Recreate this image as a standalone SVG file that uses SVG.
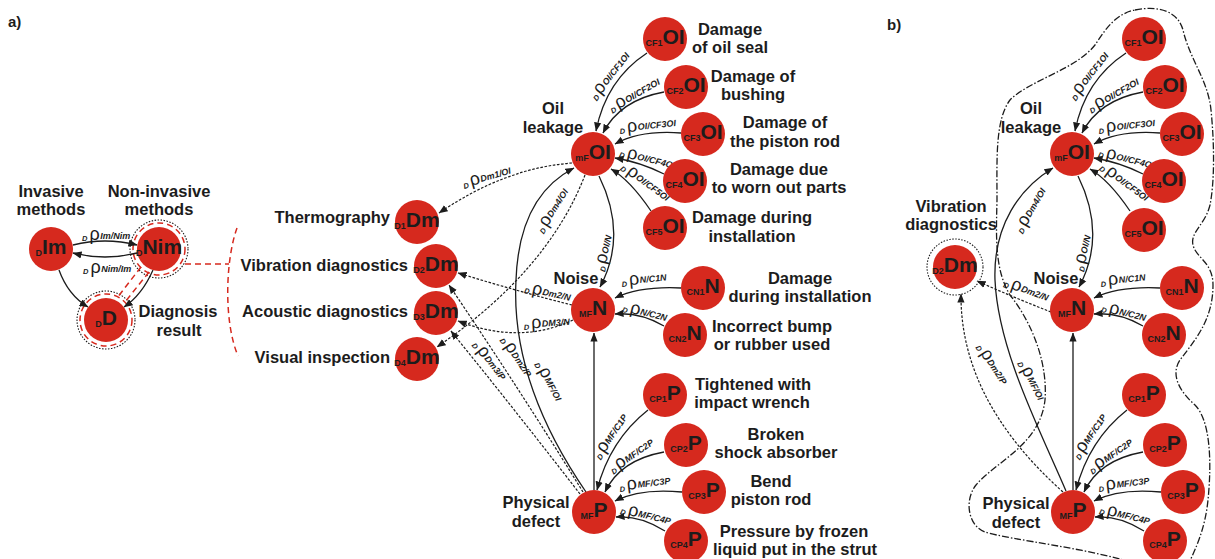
<svg xmlns="http://www.w3.org/2000/svg" width="1215" height="559" viewBox="0 0 1215 559">
<defs>
<style>
.n{fill:#d6291e}
.nt{font-family:"Liberation Sans",Arial,sans-serif;font-weight:bold;text-anchor:middle;fill:#1c1c1c}
.big{font-size:21px}
.pre{font-size:9px}
.lab{font-family:"Liberation Sans",Arial,sans-serif;font-weight:bold;font-size:16.5px;fill:#1c1c1c;text-anchor:middle}
.lr{text-anchor:end}
.e{fill:none;stroke:#1c1c1c;stroke-width:1.3}
.d{stroke-dasharray:2.6 1.6;stroke-width:1.2}
.el{font-family:"Liberation Sans",Arial,sans-serif;fill:#1c1c1c}
.ed{font-size:7.5px;font-style:italic;font-weight:bold}
.er{font-size:18px}
.es{font-size:9px;font-style:italic;font-weight:bold}
.red{fill:none;stroke:#d6291e;stroke-width:1.5;stroke-dasharray:6 4}
.dot{fill:none;stroke:#1c1c1c;stroke-width:1.1;stroke-dasharray:1.5 1.5}
.bd{fill:none;stroke:#1c1c1c;stroke-width:1.3;stroke-dasharray:7 2 1.5 2}
</style>
<marker id="ar" viewBox="0 0 10 10" refX="9.5" refY="5" markerWidth="9" markerHeight="9" markerUnits="userSpaceOnUse" orient="auto"><path d="M0,1 L10,5 L0,9 z" fill="#1c1c1c"/></marker>
</defs>
<rect width="1215" height="559" fill="#fff"/>

<text class="lab" x="8" y="27" style="text-anchor:start;font-size:15px">a)</text>
<text class="lab" x="887" y="30" style="text-anchor:start;font-size:15px">b)</text>

<!-- panel a: method sub-graph -->
<g id="decor-a">
<circle class="dot" cx="159" cy="249" r="29"/>
<circle class="red" cx="159" cy="249" r="26"/>
<circle class="dot" cx="106" cy="320" r="29"/>
<circle class="red" cx="106" cy="320" r="26"/>
<path class="red" d="M141,267 L117,298 M149,272 L125,302"/>
<path class="red" d="M185,264 L229,264"/>
<path class="red" d="M237,228 C226,258 223,320 238,356"/>
</g>

<g id="connectors-a">
<path class="e" marker-end="url(#ar)" d="M73,245 Q105,237 137,245"/>
<path class="e" marker-end="url(#ar)" d="M137,253 Q105,261 73,253"/>
<path class="e" marker-end="url(#ar)" d="M59,270 Q68,295 88,307"/>
<path class="e" marker-end="url(#ar)" d="M153,270 Q142,295 124,307"/>

<path class="e" marker-end="url(#ar)" d="M647,53 Q606,80 596,131"/>
<path class="e" marker-end="url(#ar)" d="M664,92 Q620,100 603,133"/>
<path class="e" marker-end="url(#ar)" d="M681,133 Q640,130 615,144"/>
<path class="e" marker-end="url(#ar)" d="M664,174 Q640,162 615,158"/>
<path class="e" marker-end="url(#ar)" d="M651,211 Q630,180 611,169"/>
<path class="e" marker-end="url(#ar)" d="M599,176 Q628,235 600,287"/>
<path class="e" marker-end="url(#ar)" d="M681,288 Q640,286 615,298"/>
<path class="e" marker-end="url(#ar)" d="M664,326 Q640,312 615,314"/>
<path class="e" marker-end="url(#ar)" d="M594,490 L594,333"/>
<path class="e" marker-end="url(#ar)" d="M648,410 Q610,440 597,490"/>
<path class="e" marker-end="url(#ar)" d="M664,452 Q620,460 605,492"/>
<path class="e" marker-end="url(#ar)" d="M682,492 Q640,488 615,501"/>
<path class="e" marker-end="url(#ar)" d="M665,531 Q640,515 616,517"/>
<path class="e" marker-end="url(#ar)" d="M586,492 C540,425 512,355 516,280 C518,225 537,187 574,168"/>
<path class="e d" marker-end="url(#ar)" d="M572,163 Q505,168 439,213"/>
<path class="e d" marker-end="url(#ar)" d="M585,175 Q548,271 437,347"/>
<path class="e d" marker-end="url(#ar)" d="M572,305 Q520,292 458,273"/>
<path class="e d" marker-end="url(#ar)" d="M573,320 Q520,345 458,321"/>
<path class="e d" marker-end="url(#ar)" d="M583,492 Q520,390 449,285"/>
<path class="e d" marker-end="url(#ar)" d="M580,494 Q515,410 451,331"/>

<text class="el" transform="translate(82,240)"><tspan class="ed" y="1">D</tspan><tspan class="er" dx="2" y="0">ρ</tspan><tspan class="es" dx="0.5" y="-1">Im/Nim</tspan></text>
<text class="el" transform="translate(83,273)"><tspan class="ed" y="1">D</tspan><tspan class="er" dx="2" y="0">ρ</tspan><tspan class="es" dx="0.5" y="-1">Nim/Im</tspan></text>
<text class="el" transform="translate(596,101) rotate(-52)"><tspan class="ed" y="1">D</tspan><tspan class="er" dx="2" y="0">ρ</tspan><tspan class="es" dx="0.5" y="-1">OI/CF1OI</tspan></text>
<text class="el" transform="translate(612,113) rotate(-30)"><tspan class="ed" y="1">D</tspan><tspan class="er" dx="2" y="0">ρ</tspan><tspan class="es" dx="0.5" y="-1">OI/CF2OI</tspan></text>
<text class="el" transform="translate(620,133) rotate(-6)"><tspan class="ed" y="1">D</tspan><tspan class="er" dx="2" y="0">ρ</tspan><tspan class="es" dx="0.5" y="-1">OI/CF3OI</tspan></text>
<text class="el" transform="translate(619,156) rotate(14)"><tspan class="ed" y="1">D</tspan><tspan class="er" dx="2" y="0">ρ</tspan><tspan class="es" dx="0.5" y="-1">OI/CF4OI</tspan></text>
<text class="el" transform="translate(620,169) rotate(36)"><tspan class="ed" y="1">D</tspan><tspan class="er" dx="2" y="0">ρ</tspan><tspan class="es" dx="0.5" y="-1">OI/CF5OI</tspan></text>
<text class="el" transform="translate(464,188) rotate(-16)"><tspan class="ed" y="1">D</tspan><tspan class="er" dx="2" y="0">ρ</tspan><tspan class="es" dx="0.5" y="-1">Dm1/OI</tspan></text>
<text class="el" transform="translate(543,234) rotate(-58)"><tspan class="ed" y="1">D</tspan><tspan class="er" dx="2" y="0">ρ</tspan><tspan class="es" dx="0.5" y="-1">Dm4/OI</tspan></text>
<text class="el" transform="translate(604,272) rotate(-76)"><tspan class="ed" y="1">D</tspan><tspan class="er" dx="2" y="0">ρ</tspan><tspan class="es" dx="0.5" y="-1">OI/N</tspan></text>
<text class="el" transform="translate(524,292) rotate(12)"><tspan class="ed" y="1">D</tspan><tspan class="er" dx="2" y="0">ρ</tspan><tspan class="es" dx="0.5" y="-1">Dm2/N</tspan></text>
<text class="el" transform="translate(524,329) rotate(-4)"><tspan class="ed" y="1">D</tspan><tspan class="er" dx="2" y="0">ρ</tspan><tspan class="es" dx="0.5" y="-1">DM3/N</tspan></text>
<text class="el" transform="translate(472,345) rotate(52)"><tspan class="ed" y="1">D</tspan><tspan class="er" dx="2" y="0">ρ</tspan><tspan class="es" dx="0.5" y="-1">Dm3/P</tspan></text>
<text class="el" transform="translate(500,340) rotate(56)"><tspan class="ed" y="1">D</tspan><tspan class="er" dx="2" y="0">ρ</tspan><tspan class="es" dx="0.5" y="-1">Dm2/P</tspan></text>
<text class="el" transform="translate(535,364) rotate(62)"><tspan class="ed" y="1">D</tspan><tspan class="er" dx="2" y="0">ρ</tspan><tspan class="es" dx="0.5" y="-1">MF/OI</tspan></text>
<text class="el" transform="translate(600,460) rotate(-56)"><tspan class="ed" y="1">D</tspan><tspan class="er" dx="2" y="0">ρ</tspan><tspan class="es" dx="0.5" y="-1">MF/C1P</tspan></text>
<text class="el" transform="translate(613,474) rotate(-35)"><tspan class="ed" y="1">D</tspan><tspan class="er" dx="2" y="0">ρ</tspan><tspan class="es" dx="0.5" y="-1">MF/C2P</tspan></text>
<text class="el" transform="translate(620,491) rotate(-7)"><tspan class="ed" y="1">D</tspan><tspan class="er" dx="2" y="0">ρ</tspan><tspan class="es" dx="0.5" y="-1">MF/C3P</tspan></text>
<text class="el" transform="translate(620,513) rotate(14)"><tspan class="ed" y="1">D</tspan><tspan class="er" dx="2" y="0">ρ</tspan><tspan class="es" dx="0.5" y="-1">MF/C4P</tspan></text>
<text class="el" transform="translate(622,286) rotate(-6)"><tspan class="ed" y="1">D</tspan><tspan class="er" dx="2" y="0">ρ</tspan><tspan class="es" dx="0.5" y="-1">N/C1N</tspan></text>
<text class="el" transform="translate(622,311) rotate(14)"><tspan class="ed" y="1">D</tspan><tspan class="er" dx="2" y="0">ρ</tspan><tspan class="es" dx="0.5" y="-1">N/C2N</tspan></text>
</g>

<g id="a-Im"><circle class="n" cx="51" cy="249" r="22"/><text class="nt" x="51" y="254"><tspan class="pre" dy="2">D</tspan><tspan class="big" dy="-2">Im</tspan></text>
<text class="lab" x="51" y="197">Invasive</text><text class="lab" x="51" y="215">methods</text></g>
<g id="a-Nim"><circle class="n" cx="159" cy="249" r="22"/><text class="nt" x="159" y="254"><tspan class="pre" dy="2">D</tspan><tspan class="big" dy="-2">Nim</tspan></text>
<text class="lab" x="159" y="197">Non-invasive</text><text class="lab" x="159" y="215">methods</text></g>
<g id="a-D"><circle class="n" cx="106" cy="320" r="22"/><text class="nt" x="106" y="325"><tspan class="pre" dy="2">D</tspan><tspan class="big" dy="-2">D</tspan></text>
<text class="lab" x="178" y="317">Diagnosis</text><text class="lab" x="179" y="336">result</text></g>

<g id="a-Dm1"><circle class="n" cx="417" cy="222" r="22"/><text class="nt" x="417" y="227"><tspan class="pre" dy="2">D1</tspan><tspan class="big" dy="-2">Dm</tspan></text><text class="lab lr" x="390" y="223">Thermography</text></g>
<g id="a-Dm2"><circle class="n" cx="436" cy="266" r="22"/><text class="nt" x="436" y="271"><tspan class="pre" dy="2">D2</tspan><tspan class="big" dy="-2">Dm</tspan></text><text class="lab lr" x="408" y="271">Vibration diagnostics</text></g>
<g id="a-Dm3"><circle class="n" cx="436" cy="313" r="22"/><text class="nt" x="436" y="318"><tspan class="pre" dy="2">D3</tspan><tspan class="big" dy="-2">Dm</tspan></text><text class="lab lr" x="408" y="317">Acoustic diagnostics</text></g>
<g id="a-Dm4"><circle class="n" cx="417" cy="359" r="22"/><text class="nt" x="417" y="364"><tspan class="pre" dy="2">D4</tspan><tspan class="big" dy="-2">Dm</tspan></text><text class="lab lr" x="390" y="363">Visual inspection</text></g>

<g id="a-OI"><circle class="n" cx="593" cy="154" r="22"/><text class="nt" x="593" y="159"><tspan class="pre" dy="2">mF</tspan><tspan class="big" dy="-2">OI</tspan></text><text class="lab" x="553" y="114">Oil</text><text class="lab" x="553" y="133">leakage</text></g>
<g id="a-CF1"><circle class="n" cx="665" cy="39" r="22"/><text class="nt" x="665" y="44"><tspan class="pre" dy="2">CF1</tspan><tspan class="big" dy="-2">OI</tspan></text><text class="lab" x="730" y="35">Damage</text><text class="lab" x="730" y="53">of oil seal</text></g>
<g id="a-CF2"><circle class="n" cx="686" cy="87" r="22"/><text class="nt" x="686" y="92"><tspan class="pre" dy="2">CF2</tspan><tspan class="big" dy="-2">OI</tspan></text><text class="lab" x="753" y="82">Damage of</text><text class="lab" x="753" y="100">bushing</text></g>
<g id="a-CF3"><circle class="n" cx="703" cy="134" r="22"/><text class="nt" x="703" y="139"><tspan class="pre" dy="2">CF3</tspan><tspan class="big" dy="-2">OI</tspan></text><text class="lab" x="785" y="128">Damage of</text><text class="lab" x="785" y="147">the piston rod</text></g>
<g id="a-CF4"><circle class="n" cx="685" cy="181" r="22"/><text class="nt" x="685" y="186"><tspan class="pre" dy="2">CF4</tspan><tspan class="big" dy="-2">OI</tspan></text><text class="lab" x="779" y="175">Damage due</text><text class="lab" x="779" y="193">to worn out parts</text></g>
<g id="a-CF5"><circle class="n" cx="665" cy="228" r="22"/><text class="nt" x="665" y="233"><tspan class="pre" dy="2">CF5</tspan><tspan class="big" dy="-2">OI</tspan></text><text class="lab" x="752" y="223">Damage during</text><text class="lab" x="752" y="242">installation</text></g>
<g id="a-N"><circle class="n" cx="593" cy="310" r="22"/><text class="nt" x="593" y="315"><tspan class="pre" dy="2">MF</tspan><tspan class="big" dy="-2">N</tspan></text><text class="lab" x="576" y="284">Noise</text></g>
<g id="a-CN1"><circle class="n" cx="703" cy="288" r="22"/><text class="nt" x="703" y="293"><tspan class="pre" dy="2">CN1</tspan><tspan class="big" dy="-2">N</tspan></text><text class="lab" x="800" y="284">Damage</text><text class="lab" x="800" y="302">during installation</text></g>
<g id="a-CN2"><circle class="n" cx="685" cy="335" r="22"/><text class="nt" x="685" y="340"><tspan class="pre" dy="2">CN2</tspan><tspan class="big" dy="-2">N</tspan></text><text class="lab" x="772" y="332">Incorrect bump</text><text class="lab" x="772" y="350">or rubber used</text></g>
<g id="a-P"><circle class="n" cx="594" cy="512" r="22"/><text class="nt" x="594" y="517"><tspan class="pre" dy="2">MF</tspan><tspan class="big" dy="-2">P</tspan></text><text class="lab" x="536" y="508">Physical</text><text class="lab" x="536" y="527">defect</text></g>
<g id="a-CP1"><circle class="n" cx="665" cy="395" r="22"/><text class="nt" x="665" y="400"><tspan class="pre" dy="2">CP1</tspan><tspan class="big" dy="-2">P</tspan></text><text class="lab" x="753" y="390">Tightened with</text><text class="lab" x="752" y="408">impact wrench</text></g>
<g id="a-CP2"><circle class="n" cx="686" cy="445" r="22"/><text class="nt" x="686" y="450"><tspan class="pre" dy="2">CP2</tspan><tspan class="big" dy="-2">P</tspan></text><text class="lab" x="776" y="440">Broken</text><text class="lab" x="776" y="458">shock absorber</text></g>
<g id="a-CP3"><circle class="n" cx="704" cy="492" r="22"/><text class="nt" x="704" y="497"><tspan class="pre" dy="2">CP3</tspan><tspan class="big" dy="-2">P</tspan></text><text class="lab" x="771" y="487">Bend</text><text class="lab" x="771" y="505">piston rod</text></g>
<g id="a-CP4"><circle class="n" cx="686" cy="541" r="22"/><text class="nt" x="686" y="546"><tspan class="pre" dy="2">CP4</tspan><tspan class="big" dy="-2">P</tspan></text><text class="lab" x="794" y="537">Pressure by frozen</text><text class="lab" x="795" y="555">liquid put in the strut</text></g>

<!-- panel b -->
<path id="b-boundary" class="bd" d="M1135,10 C1160,5 1178,12 1183,30 C1190,60 1208,80 1211,110 C1215,150 1214,185 1210,205 C1205,225 1190,232 1193,245 C1196,258 1213,262 1213,285 C1213,320 1195,340 1180,360 C1170,375 1180,392 1195,405 C1210,420 1212,460 1208,500 C1205,530 1195,550 1188,565 L1140,565 C1090,548 1010,540 985,532 C968,526 964,500 976,485 C995,462 1040,445 1045,400 C1048,360 1030,320 1010,295 C995,270 996,240 997,200 C997,160 995,120 1010,100 C1030,80 1075,70 1095,45 C1105,30 1115,14 1135,10 Z"/>

<g id="panel-b" transform="translate(479,0)">
<g id="connectors-b">
<path class="e" marker-end="url(#ar)" d="M647,53 Q606,80 596,131"/>
<path class="e" marker-end="url(#ar)" d="M664,92 Q620,100 603,133"/>
<path class="e" marker-end="url(#ar)" d="M681,133 Q640,130 615,144"/>
<path class="e" marker-end="url(#ar)" d="M664,174 Q640,162 615,158"/>
<path class="e" marker-end="url(#ar)" d="M651,211 Q630,180 611,169"/>
<path class="e" marker-end="url(#ar)" d="M599,176 Q628,235 600,287"/>
<path class="e" marker-end="url(#ar)" d="M681,288 Q640,286 615,298"/>
<path class="e" marker-end="url(#ar)" d="M664,326 Q640,312 615,314"/>
<path class="e" marker-end="url(#ar)" d="M594,490 L594,333"/>
<path class="e" marker-end="url(#ar)" d="M648,410 Q610,440 597,490"/>
<path class="e" marker-end="url(#ar)" d="M664,452 Q620,460 605,492"/>
<path class="e" marker-end="url(#ar)" d="M682,492 Q640,488 615,501"/>
<path class="e" marker-end="url(#ar)" d="M665,531 Q640,515 616,517"/>
<path class="e" marker-end="url(#ar)" d="M587,491 C561,430 519,350 516,280 C514,225 541,188 574,168"/>
<path class="e d" marker-end="url(#ar)" d="M584,492 Q481,400 482,294"/>
<path class="e d" marker-end="url(#ar)" d="M572,312 Q536,298 498,281"/>

<text class="el" transform="translate(596,101) rotate(-52)"><tspan class="ed" y="1">D</tspan><tspan class="er" dx="2" y="0">ρ</tspan><tspan class="es" dx="0.5" y="-1">OI/CF1OI</tspan></text>
<text class="el" transform="translate(612,113) rotate(-30)"><tspan class="ed" y="1">D</tspan><tspan class="er" dx="2" y="0">ρ</tspan><tspan class="es" dx="0.5" y="-1">OI/CF2OI</tspan></text>
<text class="el" transform="translate(620,133) rotate(-6)"><tspan class="ed" y="1">D</tspan><tspan class="er" dx="2" y="0">ρ</tspan><tspan class="es" dx="0.5" y="-1">OI/CF3OI</tspan></text>
<text class="el" transform="translate(619,156) rotate(14)"><tspan class="ed" y="1">D</tspan><tspan class="er" dx="2" y="0">ρ</tspan><tspan class="es" dx="0.5" y="-1">OI/CF4OI</tspan></text>
<text class="el" transform="translate(620,169) rotate(36)"><tspan class="ed" y="1">D</tspan><tspan class="er" dx="2" y="0">ρ</tspan><tspan class="es" dx="0.5" y="-1">OI/CF5OI</tspan></text>
<text class="el" transform="translate(543,234) rotate(-60)"><tspan class="ed" y="1">D</tspan><tspan class="er" dx="2" y="0">ρ</tspan><tspan class="es" dx="0.5" y="-1">Dm4/OI</tspan></text>
<text class="el" transform="translate(604,272) rotate(-76)"><tspan class="ed" y="1">D</tspan><tspan class="er" dx="2" y="0">ρ</tspan><tspan class="es" dx="0.5" y="-1">OI/N</tspan></text>
<text class="el" transform="translate(524,286) rotate(20)"><tspan class="ed" y="1">D</tspan><tspan class="er" dx="2" y="0">ρ</tspan><tspan class="es" dx="0.5" y="-1">Dm2/N</tspan></text>
<text class="el" transform="translate(497,347) rotate(57)"><tspan class="ed" y="1">D</tspan><tspan class="er" dx="2" y="0">ρ</tspan><tspan class="es" dx="0.5" y="-1">Dm2/P</tspan></text>
<text class="el" transform="translate(539,363) rotate(63)"><tspan class="ed" y="1">D</tspan><tspan class="er" dx="2" y="0">ρ</tspan><tspan class="es" dx="0.5" y="-1">MF/OI</tspan></text>
<text class="el" transform="translate(600,460) rotate(-56)"><tspan class="ed" y="1">D</tspan><tspan class="er" dx="2" y="0">ρ</tspan><tspan class="es" dx="0.5" y="-1">MF/C1P</tspan></text>
<text class="el" transform="translate(613,474) rotate(-35)"><tspan class="ed" y="1">D</tspan><tspan class="er" dx="2" y="0">ρ</tspan><tspan class="es" dx="0.5" y="-1">MF/C2P</tspan></text>
<text class="el" transform="translate(620,491) rotate(-7)"><tspan class="ed" y="1">D</tspan><tspan class="er" dx="2" y="0">ρ</tspan><tspan class="es" dx="0.5" y="-1">MF/C3P</tspan></text>
<text class="el" transform="translate(620,513) rotate(14)"><tspan class="ed" y="1">D</tspan><tspan class="er" dx="2" y="0">ρ</tspan><tspan class="es" dx="0.5" y="-1">MF/C4P</tspan></text>
<text class="el" transform="translate(622,286) rotate(-6)"><tspan class="ed" y="1">D</tspan><tspan class="er" dx="2" y="0">ρ</tspan><tspan class="es" dx="0.5" y="-1">N/C1N</tspan></text>
<text class="el" transform="translate(622,311) rotate(14)"><tspan class="ed" y="1">D</tspan><tspan class="er" dx="2" y="0">ρ</tspan><tspan class="es" dx="0.5" y="-1">N/C2N</tspan></text>
</g>

<g id="b-Dm2"><circle class="dot" cx="476" cy="267" r="28"/><circle class="n" cx="476" cy="267" r="22"/><text class="nt" x="476" y="272"><tspan class="pre" dy="2">D2</tspan><tspan class="big" dy="-2">Dm</tspan></text><text class="lab" x="472" y="212">Vibration</text><text class="lab" x="472" y="230">diagnostics</text></g>
<g id="b-OI"><circle class="n" cx="593" cy="154" r="22"/><text class="nt" x="593" y="159"><tspan class="pre" dy="2">mF</tspan><tspan class="big" dy="-2">OI</tspan></text><text class="lab" x="552" y="114">Oil</text><text class="lab" x="552" y="133">leakage</text></g>
<g id="b-CF1"><circle class="n" cx="665" cy="39" r="22"/><text class="nt" x="665" y="44"><tspan class="pre" dy="2">CF1</tspan><tspan class="big" dy="-2">OI</tspan></text></g>
<g id="b-CF2"><circle class="n" cx="686" cy="87" r="22"/><text class="nt" x="686" y="92"><tspan class="pre" dy="2">CF2</tspan><tspan class="big" dy="-2">OI</tspan></text></g>
<g id="b-CF3"><circle class="n" cx="703" cy="134" r="22"/><text class="nt" x="703" y="139"><tspan class="pre" dy="2">CF3</tspan><tspan class="big" dy="-2">OI</tspan></text></g>
<g id="b-CF4"><circle class="n" cx="685" cy="181" r="22"/><text class="nt" x="685" y="186"><tspan class="pre" dy="2">CF4</tspan><tspan class="big" dy="-2">OI</tspan></text></g>
<g id="b-CF5"><circle class="n" cx="665" cy="230" r="22"/><text class="nt" x="665" y="235"><tspan class="pre" dy="2">CF5</tspan><tspan class="big" dy="-2">OI</tspan></text></g>
<g id="b-N"><circle class="n" cx="593" cy="310" r="22"/><text class="nt" x="593" y="315"><tspan class="pre" dy="2">MF</tspan><tspan class="big" dy="-2">N</tspan></text><text class="lab" x="577" y="284">Noise</text></g>
<g id="b-CN1"><circle class="n" cx="703" cy="288" r="22"/><text class="nt" x="703" y="293"><tspan class="pre" dy="2">CN1</tspan><tspan class="big" dy="-2">N</tspan></text></g>
<g id="b-CN2"><circle class="n" cx="685" cy="335" r="22"/><text class="nt" x="685" y="340"><tspan class="pre" dy="2">CN2</tspan><tspan class="big" dy="-2">N</tspan></text></g>
<g id="b-P"><circle class="n" cx="594" cy="512" r="22"/><text class="nt" x="594" y="517"><tspan class="pre" dy="2">MF</tspan><tspan class="big" dy="-2">P</tspan></text><text class="lab" x="537" y="509">Physical</text><text class="lab" x="537" y="528">defect</text></g>
<g id="b-CP1"><circle class="n" cx="665" cy="395" r="22"/><text class="nt" x="665" y="400"><tspan class="pre" dy="2">CP1</tspan><tspan class="big" dy="-2">P</tspan></text></g>
<g id="b-CP2"><circle class="n" cx="686" cy="445" r="22"/><text class="nt" x="686" y="450"><tspan class="pre" dy="2">CP2</tspan><tspan class="big" dy="-2">P</tspan></text></g>
<g id="b-CP3"><circle class="n" cx="704" cy="492" r="22"/><text class="nt" x="704" y="497"><tspan class="pre" dy="2">CP3</tspan><tspan class="big" dy="-2">P</tspan></text></g>
<g id="b-CP4"><circle class="n" cx="686" cy="541" r="22"/><text class="nt" x="686" y="546"><tspan class="pre" dy="2">CP4</tspan><tspan class="big" dy="-2">P</tspan></text></g>
</g>
</svg>
